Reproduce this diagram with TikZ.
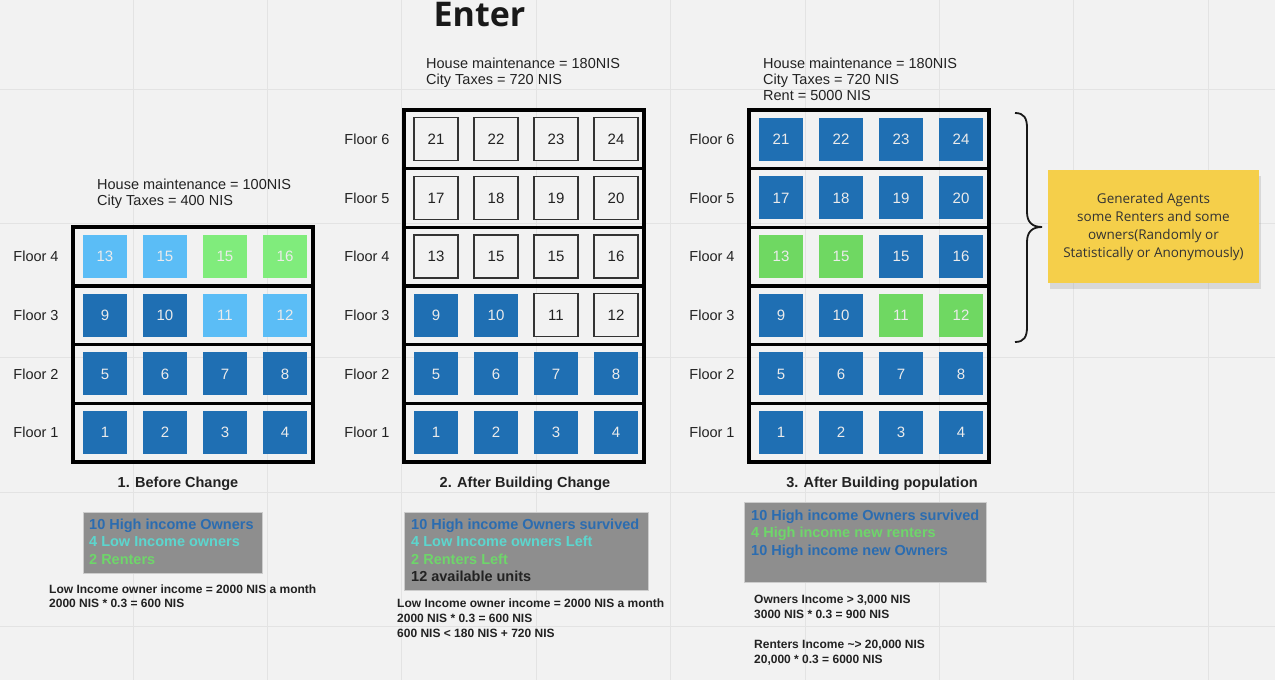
\documentclass[tikz,border=0pt]{standalone}
\usepackage{fontspec}
\setmainfont{Liberation Sans}
\newfontfamily\opensans{Open Sans}
\usetikzlibrary{shadows}
\definecolor{bg}{HTML}{F2F2F2}
\definecolor{gridc}{HTML}{E3E3E3}
\definecolor{db}{HTML}{1F6FB3}
\definecolor{lb}{HTML}{5BBDF6}
\definecolor{grA}{HTML}{80EC7C}
\definecolor{grB}{HTML}{6FD862}
\definecolor{legbg}{HTML}{8E8E8E}
\definecolor{lgblue}{HTML}{2B6CB0}
\definecolor{lgcyan}{HTML}{5CD6CE}
\definecolor{lggreen}{HTML}{6ED66A}
\definecolor{stickyc}{HTML}{F5CF4A}
\definecolor{txt}{HTML}{222222}
\tikzset{
  cell/.style={minimum width=44pt, minimum height=43pt, inner sep=0pt, text=white!92!black,
    font=\fontsize{15}{18}\selectfont},
  dbc/.style={fill=db},
  lbc/.style={fill=lb},
  gac/.style={fill=grA},
  gbc/.style={fill=grB},
  emc/.style={draw=black!80, line width=1.2pt, fill=bg, text=txt},
  floorlbl/.style={inner sep=0pt, text=txt, font=\fontsize{14.5}{17}\selectfont},
  frame/.style={draw=black, line width=3.6pt},
  divider/.style={draw=black, line width=3.2pt},
  toptxt/.style={inner sep=0pt, text=txt, font=\fontsize{14.5}{17}\selectfont},
  caption/.style={inner sep=0pt, text=txt, font=\bfseries\fontsize{14.5}{17}\selectfont},
  legbox/.style={fill=legbg, draw=black!20, line width=0.4pt, inner sep=0pt},
  lgB/.style={inner sep=0pt, text=lgblue, font=\bfseries\fontsize{14.5}{17}\selectfont},
  lgC/.style={inner sep=0pt, text=lgcyan, font=\bfseries\fontsize{14.5}{17}\selectfont},
  lgG/.style={inner sep=0pt, text=lggreen, font=\bfseries\fontsize{14.5}{17}\selectfont},
  lgK/.style={inner sep=0pt, text=txt, font=\bfseries\fontsize{14.5}{17}\selectfont},
  small/.style={inner sep=0pt, text=txt, font=\bfseries\fontsize{12}{14}\selectfont},
  sticky/.style={fill=stickyc, minimum width=211pt, minimum height=113pt, inner sep=0pt,
    align=center, text=black!80, font=\opensans\fontsize{13.5}{18}\selectfont,
    drop shadow={opacity=0.22, shadow xshift=2pt, shadow yshift=-6pt}},
}
% #1 building name, #2 left x, #3 floor, #4 list of number/style
\newcommand\bldrow[4]{%
  \node[floorlbl] (#1l#3) at ({#2-37},{462-(#3-0.5)*58.7}) {Floor #3};
  \foreach \n/\s [count=\i] in {#4} {%
    \node[cell,\s] (#1f#3c\i) at ({#2+32+60*(\i-1)},{462-(#3-0.5)*58.7}) {\n};}%
}
% #1 name, #2 x, #3 first baseline, #4 line step, #5 list text/style
\newcommand\txtlines[5]{%
  \foreach \t/\s [count=\i] in {#5} {%
    \node[\s, anchor=base west] (#1\i) at (#2,{#3+(\i-1)*#4}) {\t};}%
}
\begin{document}
\begin{tikzpicture}[x=1pt,y=-1pt]
\fill[bg] (0,0) rectangle (1275,680);
\useasboundingbox (0,0) rectangle (1275,680);
% grid
\foreach \gx in {133,267.4,401.8,536.2,670.6,805,939.4,1073.8,1208.2}
  \draw[gridc, line width=0.9pt] (\gx,0) -- (\gx,680);
\foreach \gy in {89,223.4,357.8,492.2,626.6}
  \draw[gridc, line width=0.9pt] (0,\gy) -- (1275,\gy);

% title
\node[inner sep=0pt, anchor=base, font=\opensans\bfseries\fontsize{34}{36}\selectfont, text=black!90] (title) at (479.5,27) {Enter};

% ---------- building 1 ----------
\draw[frame] (73,{462-4*58.7}) rectangle (313,462);
\foreach \k in {1,2,3} \draw[divider] (73,{462-\k*58.7}) -- (313,{462-\k*58.7});
\bldrow{a}{73}{4}{13/lbc,15/lbc,15/gac,16/gac}
\bldrow{a}{73}{3}{9/dbc,10/dbc,11/lbc,12/lbc}
\bldrow{a}{73}{2}{5/dbc,6/dbc,7/dbc,8/dbc}
\bldrow{a}{73}{1}{1/dbc,2/dbc,3/dbc,4/dbc}
\txtlines{atop}{97}{189}{16}{House maintenance = 100NIS/toptxt, City Taxes = 400 NIS/toptxt}
\node[caption, anchor=base] (acap) at (178,487) {1. Before Change};

% ---------- building 2 ----------
\draw[frame] (404,{462-6*58.7}) rectangle (644,462);
\foreach \k in {1,...,5} \draw[divider] (404,{462-\k*58.7}) -- (644,{462-\k*58.7});
\bldrow{b}{404}{6}{21/emc,22/emc,23/emc,24/emc}
\bldrow{b}{404}{5}{17/emc,18/emc,19/emc,20/emc}
\bldrow{b}{404}{4}{13/emc,15/emc,15/emc,16/emc}
\bldrow{b}{404}{3}{9/dbc,10/dbc,11/emc,12/emc}
\bldrow{b}{404}{2}{5/dbc,6/dbc,7/dbc,8/dbc}
\bldrow{b}{404}{1}{1/dbc,2/dbc,3/dbc,4/dbc}
\txtlines{btop}{426}{68}{16}{House maintenance = 180NIS/toptxt, City Taxes = 720 NIS/toptxt}
\node[caption, anchor=base] (bcap) at (525,487) {2. After Building Change};

% ---------- building 3 ----------
\draw[frame] (749,{462-6*58.7}) rectangle (989,462);
\foreach \k in {1,...,5} \draw[divider] (749,{462-\k*58.7}) -- (989,{462-\k*58.7});
\bldrow{c}{749}{6}{21/dbc,22/dbc,23/dbc,24/dbc}
\bldrow{c}{749}{5}{17/dbc,18/dbc,19/dbc,20/dbc}
\bldrow{c}{749}{4}{13/gbc,15/gbc,15/dbc,16/dbc}
\bldrow{c}{749}{3}{9/dbc,10/dbc,11/gbc,12/gbc}
\bldrow{c}{749}{2}{5/dbc,6/dbc,7/dbc,8/dbc}
\bldrow{c}{749}{1}{1/dbc,2/dbc,3/dbc,4/dbc}
\txtlines{ctop}{763}{68}{16}{House maintenance = 180NIS/toptxt, City Taxes = 720 NIS/toptxt, Rent = 5000 NIS/toptxt}
\node[caption, anchor=base] (ccap) at (882,487) {3. After Building population};

% ---------- legends ----------
\node[legbox, minimum width=179pt, minimum height=61pt] (lg1) at (172.5,542.5) {};
\txtlines{lga}{89}{529}{17.6}{10 High income Owners/lgB, 4 Low Income owners/lgC, 2 Renters/lgG}
\node[legbox, minimum width=244pt, minimum height=78pt] (lg2) at (526,551) {};
\txtlines{lgb}{411}{529}{17.6}{10 High income Owners survived/lgB, 4 Low Income owners Left/lgC, 2 Renters Left/lgG, 12 available units/lgK}
\node[legbox, minimum width=242pt, minimum height=80pt] (lg3) at (865,542) {};
\txtlines{lgc}{751}{520}{17.5}{10 High income Owners survived/lgB, 4 High income new renters/lgG, 10 High income new Owners/lgB}

% ---------- notes under legends ----------
\txtlines{na}{49}{593}{14.5}{Low Income owner income = 2000 NIS a month/small, 2000 NIS * 0.3 = 600 NIS/small}
\txtlines{nb}{397}{607}{15}{Low Income owner income = 2000 NIS a month/small, 2000 NIS * 0.3 = 600 NIS/small, 600 NIS < 180 NIS + 720 NIS/small}
\txtlines{nc}{754}{603}{15}{{Owners Income > 3,000 NIS}/small, 3000 NIS * 0.3 = 900 NIS/small}
\txtlines{nd}{754}{648}{15}{{Renters Income \textasciitilde> 20,000 NIS}/small, {20,000 * 0.3 = 6000 NIS}/small}

% ---------- brace and sticky note ----------
\draw[line width=1.8pt, black!90]
  (1015,113) .. controls (1024,113) and (1027,118) .. (1027,128)
  -- (1027,212) .. controls (1027,222) and (1032,227) .. (1042,227)
  .. controls (1032,227) and (1027,232) .. (1027,242)
  -- (1027,327) .. controls (1027,337) and (1024,342) .. (1015,342);
\node[sticky] (note) at (1153.5,226.5) {Generated Agents\\some Renters and some\\owners(Randomly or\\Statistically or Anonymously)};
\end{tikzpicture}
\end{document}
